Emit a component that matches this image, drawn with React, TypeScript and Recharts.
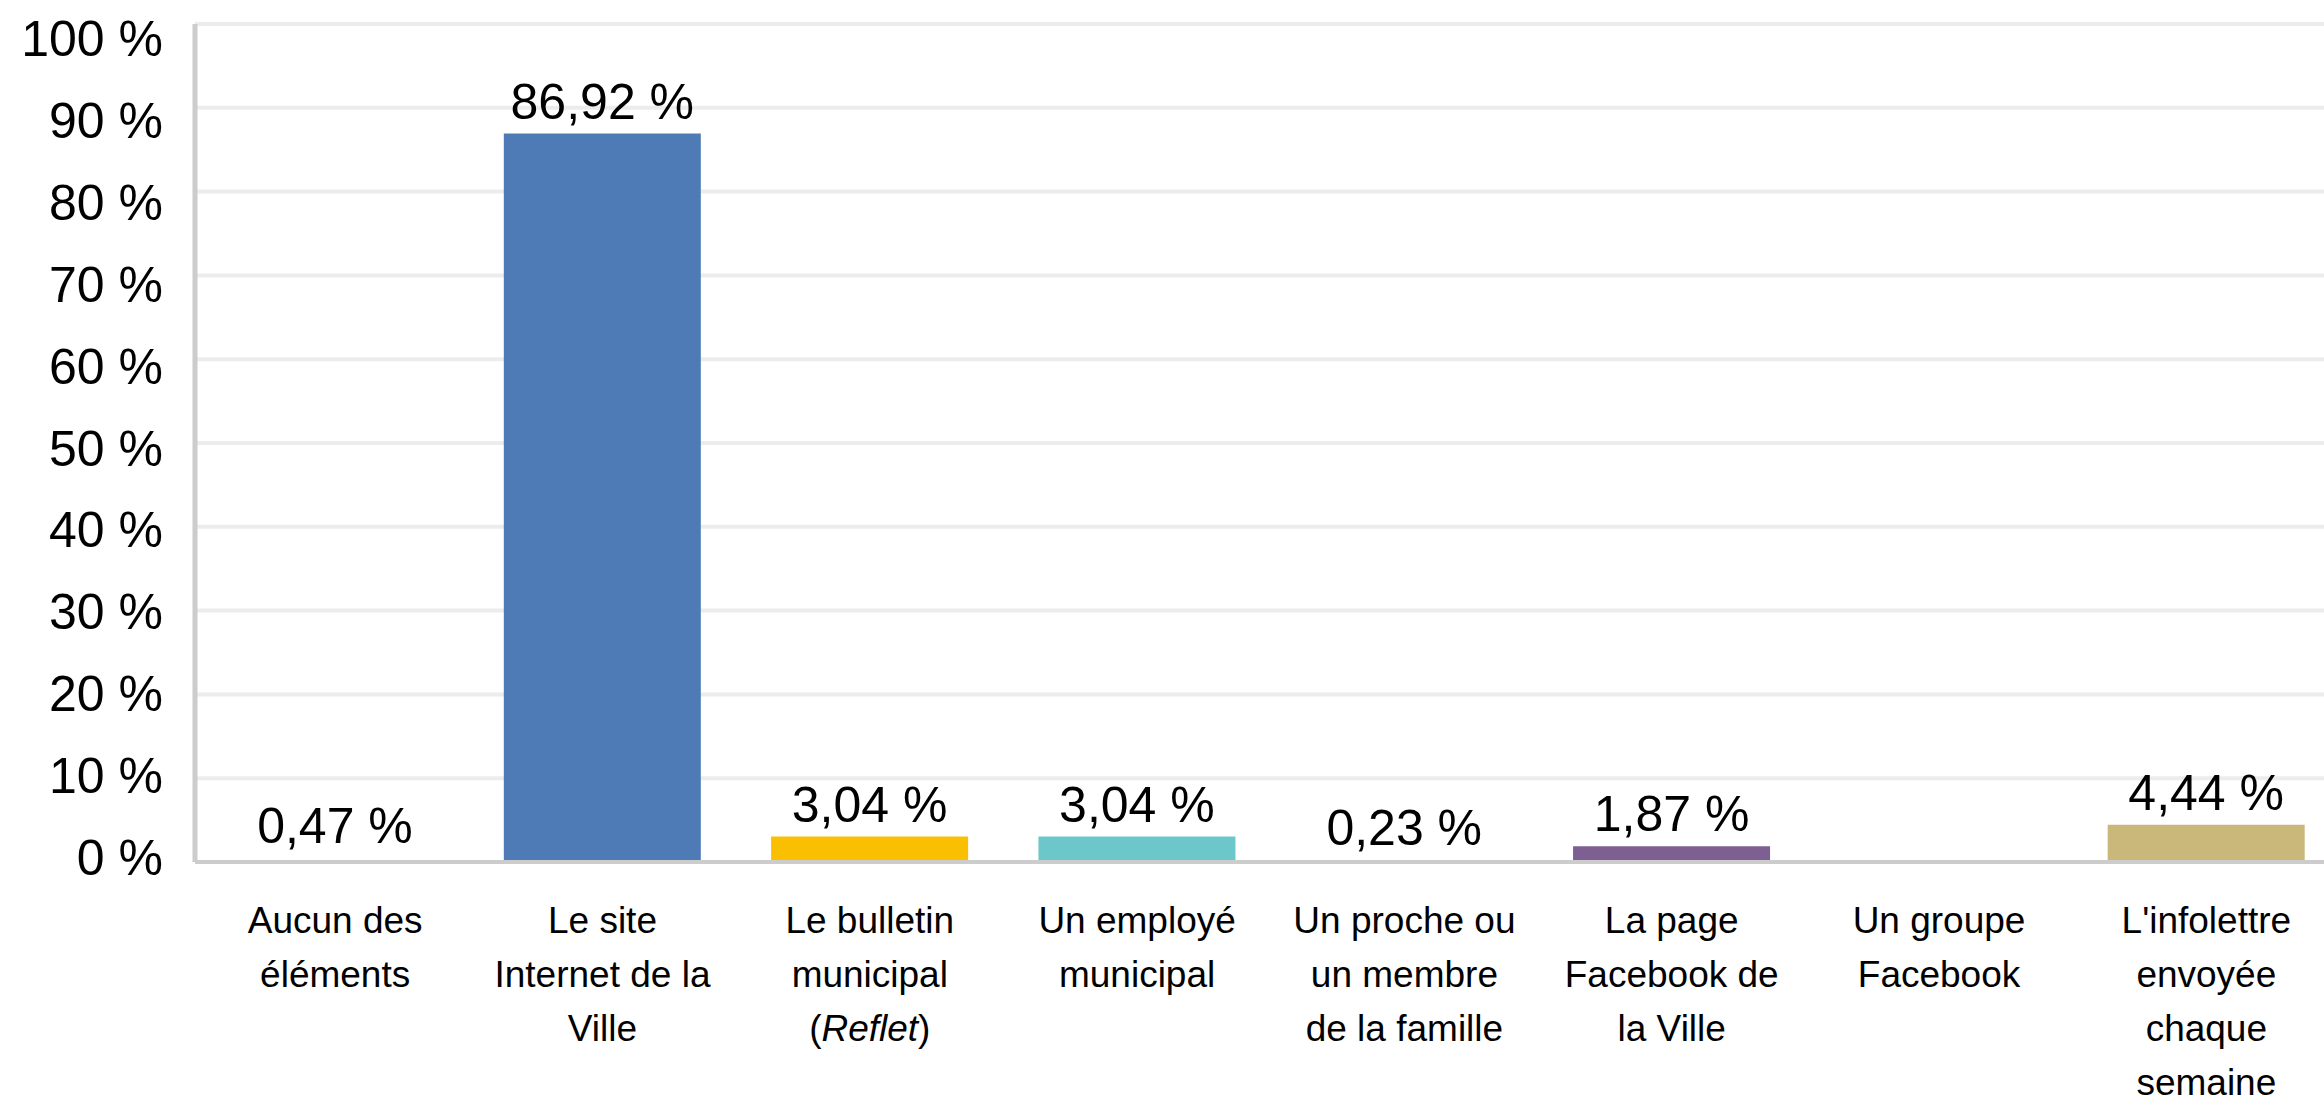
import { BarChart, Bar, XAxis, YAxis, CartesianGrid, Cell, LabelList } from "recharts";

const categories = [
  "Aucun des\néléments",
  "Le site\nInternet de la\nVille",
  "Le bulletin\nmunicipal\n(_Reflet_)",
  "Un employé\nmunicipal",
  "Un proche ou\nun membre\nde la famille",
  "La page\nFacebook de\nla Ville",
  "Un groupe\nFacebook",
  "L'infolettre\nenvoyée\nchaque\nsemaine",
];
const values = [0.47, 86.92, 3.04, 3.04, 0.23, 1.87, 0, 4.44];
const colors = ["#ffffff", "#4e7bb5", "#f9bf00", "#6cc7ca", "#ffffff", "#7e5f92", "#ffffff", "#c9b87a"];
const yTicks = [0, 10, 20, 30, 40, 50, 60, 70, 80, 90, 100];

const data = categories.map((name, i) => ({ name, value: values[i] }));

const FONT = "'Liberation Sans', Arial, sans-serif";

function XTick(props: any) {
  const { x, y, payload } = props;
  const lines: string[] = String(payload.value).split("\n");
  return (
    <text x={x} y={y} textAnchor="middle" fontFamily={FONT} fontSize={37} fill="#000">
      {lines.map((line, i) => {
        const parts = line.split("_");
        return (
          <tspan key={i} x={x} dy={i === 0 ? 71 : 54}>
            {parts.map((p, j) => (
              <tspan key={j} fontStyle={j % 2 === 1 ? "italic" : "normal"}>
                {p}
              </tspan>
            ))}
          </tspan>
        );
      })}
    </text>
  );
}

function YTick(props: any) {
  const { x, y, payload } = props;
  const v = Number(payload.value);
  return (
    <text x={x} y={y + 13 + 0.19 * v} textAnchor="end" fontFamily={FONT} fontSize={50} fill="#000">
      {`${v} %`}
    </text>
  );
}

const fmt = (v: any) => (Number(v) > 0 ? Number(v).toFixed(2).replace(".", ",") + " %" : "");

export default function App() {
  return (
    <div
      style={{
        position: "fixed",
        left: 0,
        top: 0,
        width: 2324,
        height: 1099,
        overflow: "hidden",
        background: "#fff",
      }}
    >
      <BarChart width={2340} height={1099} data={data} margin={{ top: 24, right: 0, bottom: 0, left: 0 }}>
        <CartesianGrid vertical={false} stroke="#ececec" strokeWidth={4} />
        <XAxis
          dataKey="name"
          interval={0}
          height={237}
          padding={{ left: 6.5, right: 0 }}
          tickLine={false}
          tickSize={0}
          tickMargin={0}
          axisLine={{ stroke: "#cccccc", strokeWidth: 4 }}
          tick={<XTick />}
        />
        <YAxis
          width={195}
          domain={[0, 100]}
          ticks={yTicks}
          interval={0}
          tickLine={false}
          tickSize={0}
          tickMargin={32}
          axisLine={{ stroke: "#cccccc", strokeWidth: 5 }}
          tick={<YTick />}
        />
        <Bar dataKey="value" barSize={197} isAnimationActive={false}>
          {data.map((d, i) => (
            <Cell key={d.name} fill={colors[i]} />
          ))}
          <LabelList
            dataKey="value"
            position="top"
            offset={15}
            formatter={fmt}
            style={{ fontFamily: FONT, fontSize: 50, fill: "#000" }}
          />
        </Bar>
      </BarChart>
    </div>
  );
}
